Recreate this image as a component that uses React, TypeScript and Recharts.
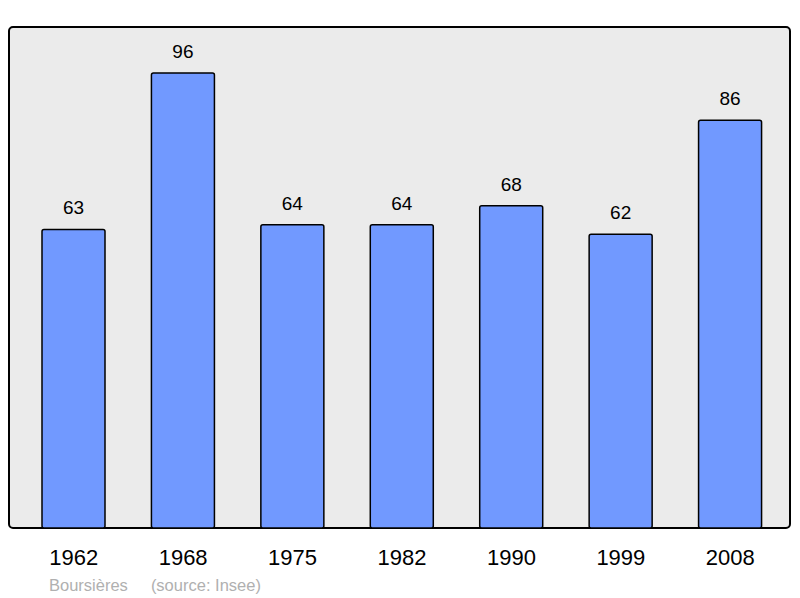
import React from 'react'
import { BarChart, Bar, XAxis, YAxis, LabelList, ReferenceArea } from 'recharts'

const years = ['1962', '1968', '1975', '1982', '1990', '1999', '2008']
const population = [63, 96, 64, 64, 68, 62, 86]

const data = years.map((year, i) => ({ year, population: population[i] }))

const Y_MAX = 105.7
const FONT = '"Liberation Sans", Arial, sans-serif'

export default function App() {
  return (
    <div
      style={{
        position: 'absolute',
        left: 0,
        top: 0,
        width: 800,
        height: 598,
        background: '#fff',
        fontFamily: FONT,
      }}
    >
      <BarChart
        width={800}
        height={598}
        data={data}
        margin={{ top: 27, right: 10, left: 9, bottom: 40 }}
        barCategoryGap={23}
      >
        {/* hidden numeric axis so the frame spans the whole plot area */}
        <XAxis
          xAxisId="frame"
          dataKey="frame"
          type="number"
          domain={[0, 1]}
          allowDataOverflow
          hide
        />
        <ReferenceArea
          xAxisId="frame"
          x1={0}
          x2={1}
          y1={0}
          y2={Y_MAX}
          fill="#ebebeb"
          fillOpacity={1}
          stroke="#000"
          strokeWidth={2}
          radius={4}
        />
        <XAxis
          dataKey="year"
          height={30}
          axisLine={false}
          tickLine={false}
          tickMargin={15}
          padding={{ left: 10, right: 5 }}
          tick={{ fill: '#000', fontSize: 22, fontFamily: FONT }}
        />
        <YAxis hide domain={[0, Y_MAX]} />
        <Bar
          dataKey="population"
          fill="#7199ff"
          stroke="#000"
          strokeWidth={1.5}
          radius={2}
          isAnimationActive={false}
        >
          <LabelList
            dataKey="population"
            position="top"
            offset={15}
            fill="#000"
            fontSize={19}
            fontFamily={FONT}
          />
        </Bar>
      </BarChart>
      <div
        style={{
          position: 'absolute',
          left: 49,
          top: 576,
          fontSize: 16.5,
          color: '#b0b0b0',
          whiteSpace: 'pre',
        }}
      >
        <span>Boursières</span>
        <span style={{ marginLeft: 23 }}>(source: Insee)</span>
      </div>
    </div>
  )
}
